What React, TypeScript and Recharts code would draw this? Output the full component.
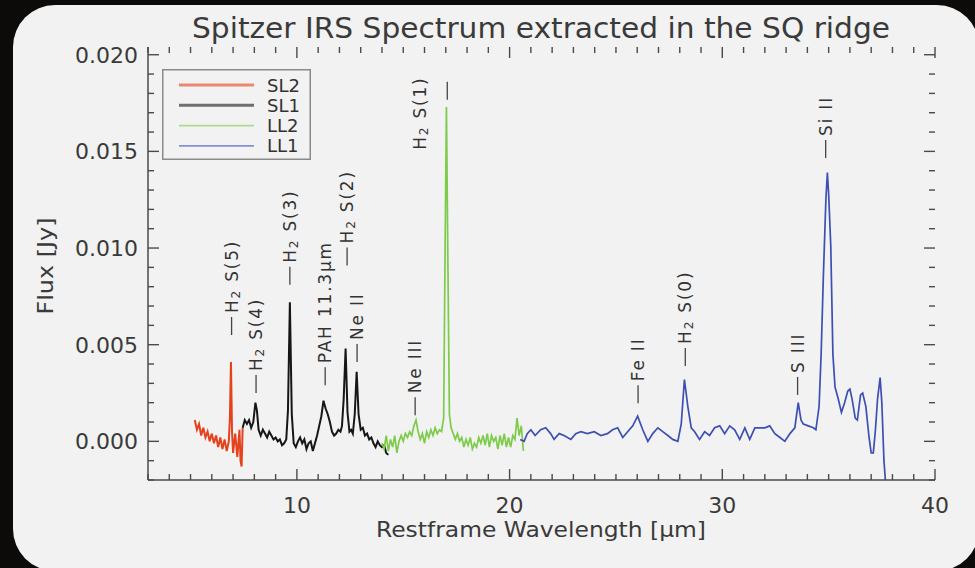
import React from 'react';
import { LineChart, Line, XAxis, YAxis, ReferenceDot, Legend } from 'recharts';

// Spitzer IRS modules: wavelength [um] and flux [Jy] samples
const sl2Wave = [5.2, 5.3, 5.4, 5.5, 5.6, 5.7, 5.8, 5.9, 6.0, 6.1, 6.2, 6.3, 6.4, 6.5, 6.6, 6.7, 6.8, 6.85, 6.9, 6.95, 7.0, 7.1, 7.2, 7.3, 7.35, 7.4, 7.45];
const sl2Flux = [0.0011, 0.0006, 0.0009, 0.0003, 0.0007, 0.0002, 0.0005, 0.0, 0.0004, -0.0001, 0.0003, -0.0003, 0.0002, -0.0004, 0.0001, -0.0005, 0.0, 0.0012, 0.0041, 0.0005, -0.0006, 0.0004, -0.0008, 0.0006, -0.001, -0.0013, 0.0007];

const sl1Wave = [7.45, 7.55, 7.65, 7.75, 7.85, 7.95, 8.05, 8.12, 8.2, 8.3, 8.4, 8.5, 8.6, 8.7, 8.8, 8.9, 9.0, 9.1, 9.2, 9.3, 9.4, 9.5, 9.58, 9.67, 9.76, 9.85, 9.95, 10.05, 10.15, 10.25, 10.35, 10.45, 10.55, 10.65, 10.75, 10.85, 10.95, 11.05, 11.15, 11.25, 11.35, 11.45, 11.55, 11.65, 11.75, 11.85, 11.95, 12.05, 12.12, 12.2, 12.29, 12.38, 12.47, 12.55, 12.63, 12.72, 12.81, 12.9, 13.0, 13.1, 13.2, 13.3, 13.4, 13.5, 13.6, 13.7, 13.8, 13.9, 14.0, 14.1, 14.2, 14.3];
const sl1Flux = [0.0007, 0.0011, 0.0009, 0.0011, 0.0007, 0.001, 0.002, 0.0016, 0.0006, 0.0003, 0.0006, 0.0004, 0.0002, 0.0005, 0.0003, 0.0001, 0.0002, 0.0, 0.0001, -0.0002, -0.0001, 0.0001, 0.0016, 0.0072, 0.0014, -0.0001, -0.0003, 0.0, 0.0002, -0.0001, 0.0001, -0.0004, -0.0001, 0.0, -0.0005, -0.0001, 0.0003, 0.0008, 0.0013, 0.0021, 0.0017, 0.0014, 0.001, 0.0005, 0.0003, 0.0004, 0.0006, 0.0005, 0.0008, 0.0022, 0.0048, 0.0015, 0.0005, 0.0006, 0.0004, 0.0014, 0.0036, 0.0014, 0.0006, 0.0007, 0.0003, 0.0004, 0.0001, 0.0002, -0.0001, -0.0003, 0.0, -0.0002, -0.0003, -0.0002, -0.0006, -0.0007];

const ll2Wave = [14.0, 14.1, 14.2, 14.3, 14.4, 14.5, 14.6, 14.7, 14.8, 14.9, 15.0, 15.1, 15.2, 15.3, 15.4, 15.5, 15.6, 15.7, 15.8, 15.9, 16.0, 16.1, 16.2, 16.3, 16.4, 16.5, 16.6, 16.7, 16.8, 16.9, 16.96, 17.03, 17.1, 17.17, 17.25, 17.35, 17.45, 17.55, 17.65, 17.75, 17.85, 17.95, 18.05, 18.15, 18.25, 18.35, 18.45, 18.55, 18.65, 18.75, 18.85, 18.95, 19.05, 19.15, 19.25, 19.35, 19.45, 19.55, 19.65, 19.75, 19.85, 19.95, 20.05, 20.15, 20.25, 20.35, 20.45, 20.55, 20.65];
const ll2Flux = [-0.0001, -0.0004, 0.0003, -0.0005, 0.0001, -0.0003, 0.0003, -0.0006, 0.0, 0.0003, 0.0, 0.0004, 0.0002, 0.0005, 0.0003, 0.0008, 0.0011, 0.0005, 0.0001, 0.0004, -0.0001, 0.0005, 0.0002, 0.0006, 0.0003, 0.0007, 0.0004, 0.0006, 0.0005, 0.0012, 0.009, 0.0173, 0.0092, 0.0014, 0.0007, 0.0004, 0.0001, 0.0004, 0.0, 0.0002, -0.0003, 0.0001, -0.0002, 0.0002, -0.0004, -0.0001, -0.0003, 0.0002, -0.0001, 0.0003, -0.0002, 0.0004, -0.0003, 0.0003, 0.0, 0.0002, -0.0004, 0.0003, -0.0002, 0.0004, -0.0003, 0.0002, -0.0003, 0.0003, 0.0001, 0.0012, 0.0003, 0.0008, -0.0005];

const ll1Wave = [20.5, 20.68, 20.83, 21.0, 21.2, 21.46, 21.7, 21.93, 22.09, 22.33, 22.56, 22.88, 23.11, 23.35, 23.66, 23.98, 24.29, 24.6, 24.84, 25.08, 25.32, 25.55, 25.79, 26.02, 26.26, 26.5, 26.73, 26.97, 27.2, 27.44, 27.67, 27.91, 28.07, 28.22, 28.38, 28.54, 28.7, 28.93, 29.17, 29.4, 29.64, 29.88, 30.11, 30.35, 30.58, 30.82, 31.06, 31.29, 31.53, 31.76, 32.0, 32.23, 32.47, 32.71, 32.94, 33.18, 33.41, 33.57, 33.7, 33.81, 34.04, 34.28, 34.4, 34.55, 34.65, 34.75, 34.87, 34.94, 35.0, 35.1, 35.2, 35.3, 35.45, 35.6, 35.75, 35.9, 36.0, 36.1, 36.25, 36.35, 36.5, 36.6, 36.75, 36.9, 37.0, 37.1, 37.2, 37.3, 37.42, 37.5, 37.6, 37.7];
const ll1Flux = [0.0001, 0.0, 0.0004, 0.0006, 0.0003, 0.0006, 0.0007, 0.0004, 0.0001, 0.0004, 0.0003, 0.0001, 0.0004, 0.0005, 0.0004, 0.0005, 0.0003, 0.0004, 0.0006, 0.0007, 0.0002, 0.0005, 0.0008, 0.0013, 0.0006, 0.0, 0.0004, 0.0007, 0.0005, 0.0003, 0.0001, 0.0, 0.0009, 0.0032, 0.0018, 0.0007, 0.0005, 0.0001, 0.0005, 0.0003, 0.0007, 0.0008, 0.0004, 0.0008, 0.0006, 0.0001, 0.0007, 0.0001, 0.0007, 0.0007, 0.0007, 0.0008, 0.0004, 0.0002, 0.0, 0.0004, 0.0007, 0.002, 0.0011, 0.0009, 0.0008, 0.0007, 0.0006, 0.0018, 0.0046, 0.0085, 0.0125, 0.0139, 0.0128, 0.0101, 0.0045, 0.0028, 0.0022, 0.0015, 0.002, 0.0026, 0.0027, 0.0022, 0.0012, 0.0011, 0.0024, 0.0025, 0.0018, 0.0002, -0.0006, -0.0006, 0.0006, 0.0022, 0.0033, 0.002, -0.001, -0.0025];

// axis ranges and ticks (minor every 1 um / 0.001 Jy, labelled majors)
const X_MIN = 3;
const X_MAX = 40;
const Y_MIN = -0.002;
const Y_MAX = 0.0204;
const xTicks = [3, 4, 5, 6, 7, 8, 9, 10, 11, 12, 13, 14, 15, 16, 17, 18, 19, 20, 21, 22, 23, 24, 25, 26, 27, 28, 29, 30, 31, 32, 33, 34, 35, 36, 37, 38, 39, 40];
const xMajor = [10, 20, 30, 40];
const yTicks = [-0.002, -0.001, 0, 0.001, 0.002, 0.003, 0.004, 0.005, 0.006, 0.007, 0.008, 0.009, 0.01, 0.011, 0.012, 0.013, 0.014, 0.015, 0.016, 0.017, 0.018, 0.019, 0.02];
const yMajor = [0, 0.005, 0.01, 0.015, 0.02];

// emission line identifications: wavelength, flux at the foot of the marker
const lineIds = [
  { wl: 6.93, flux: 0.0055, main: 'H', sub: '2', tail: ' S(5)' },
  { wl: 8.08, flux: 0.0025, main: 'H', sub: '2', tail: ' S(4)' },
  { wl: 9.67, flux: 0.0081, main: 'H', sub: '2', tail: ' S(3)' },
  { wl: 11.33, flux: 0.0029, main: 'PAH 11.3\u03bcm' },
  { wl: 12.36, flux: 0.0091, main: 'H', sub: '2', tail: ' S(2)' },
  { wl: 12.83, flux: 0.0041, main: 'Ne II' },
  { wl: 15.56, flux: 0.00135, main: 'Ne III' },
  { wl: 17.07, flux: 0.01767, main: 'H', sub: '2', tail: ' S(1)', dx: -27, lift: -50 },
  { wl: 26.04, flux: 0.00197, main: 'Fe II' },
  { wl: 28.26, flux: 0.0039, main: 'H', sub: '2', tail: ' S(0)' },
  { wl: 33.54, flux: 0.0024, main: 'S III' },
  { wl: 34.86, flux: 0.01466, main: 'Si II' },
];

const zip = (w: number[], f: number[]) => w.map((x, i) => ({ x, y: f[i] }));

const modules = [
  { name: 'SL2', color: '#e4421c', width: 2, data: zip(sl2Wave, sl2Flux) },
  { name: 'SL1', color: '#161616', width: 2, data: zip(sl1Wave, sl1Flux) },
  { name: 'LL2', color: '#7dcb4a', width: 1.7, data: zip(ll2Wave, ll2Flux) },
  { name: 'LL1', color: '#3d4fb2', width: 1.7, data: zip(ll1Wave, ll1Flux) },
];

const FONT = '"DejaVu Sans", sans-serif';
const INK = '#3a3a3a';
const AXIS = '#4a4a4a';

const isMajor = (v: number, majors: number[]) => majors.some((m) => Math.abs(m - v) < 1e-9);

// tick labels only; the tick marks themselves are drawn inward as frame ticks
const BottomLabel = (props: any) => {
  const { x, y, payload } = props;
  if (!isMajor(payload.value, xMajor)) return <g />;
  return (
    <text x={x} y={y + 33} textAnchor="middle" fontSize={22} fill={INK} stroke="none" fontFamily={FONT}>
      {payload.value}
    </text>
  );
};

const LeftLabel = (props: any) => {
  const { x, y, payload } = props;
  if (!isMajor(payload.value, yMajor)) return <g />;
  return (
    <text x={x - 10} y={y + 8} textAnchor="end" fontSize={22} fill={INK} stroke="none" fontFamily={FONT}>
      {payload.value.toFixed(3)}
    </text>
  );
};

// short inward tick on the plot frame (IDL style, all four sides)
const FrameTick = ({ cx, cy, dx, dy }: any) => (
  <path d={`M${cx},${cy}l${dx},${dy}`} stroke={AXIS} strokeWidth={1.4} fill="none" />
);

const frameTicks = [
  ...xTicks.flatMap((v) => {
    const len = isMajor(v, xMajor) ? 11 : 6;
    return [
      { key: `b${v}`, x: v, y: Y_MIN, dx: 0, dy: -len },
      { key: `t${v}`, x: v, y: Y_MAX, dx: 0, dy: len },
    ];
  }),
  ...yTicks.flatMap((v) => {
    const len = isMajor(v, yMajor) ? 11 : 6;
    return [
      { key: `l${v}`, x: X_MIN, y: v, dx: len, dy: 0 },
      { key: `r${v}`, x: X_MAX, y: v, dx: -len, dy: 0 },
    ];
  }),
];

// vertical line identification: short marker plus rotated label
const LineId = ({ cx, cy, note }: any) => {
  const tx = cx + (note.dx ?? 0);
  const start = cy - (note.lift ?? 22);
  return (
    <g>
      <line x1={cx} x2={cx} y1={cy} y2={cy - 18} stroke="#444" strokeWidth={1.3} />
      <text
        transform={`translate(${tx},${start}) rotate(-90)`}
        dominantBaseline="central"
        fontSize={17}
        letterSpacing={1.8}
        fill="#333"
        fontFamily={FONT}
      >
        {note.main}
        {note.sub && (
          <tspan dy={4} fontSize={12}>
            {note.sub}
          </tspan>
        )}
        {note.tail && <tspan dy={note.sub ? -4 : 0}>{note.tail}</tspan>}
      </text>
    </g>
  );
};

const order = (name: string) => modules.findIndex((m) => m.name === name);

const LegendBox = ({ payload }: any) => {
  const items = [...(payload || [])].sort((a: any, b: any) => order(a.value) - order(b.value));
  return (
    <svg width={149} height={91}>
      <rect x={0.75} y={0.75} width={147.5} height={89.5} fill="none" stroke="#8a8a8a" strokeWidth={1.5} />
      {items.map((p: any, i: number) => {
        const mod = modules[order(p.value)];
        const ly = 16 + i * 20.3;
        return (
          <g key={p.value}>
            <line
              x1={17}
              x2={92}
              y1={ly}
              y2={ly}
              stroke={p.color}
              strokeOpacity={0.6}
              strokeWidth={mod && mod.width > 1.8 ? 3 : 1.8}
            />
            <text x={105} y={ly + 6.5} fontSize={18} fill="#333" fontFamily={FONT}>
              {p.value}
            </text>
          </g>
        );
      })}
    </svg>
  );
};

const axisLine = { stroke: AXIS, strokeWidth: 1.5 };

const SpectrumChart: React.FC = () => (
  <LineChart width={975} height={568} margin={{ top: 47, right: 40, bottom: 58, left: 88 }}>
    <XAxis
      dataKey="x"
      type="number"
      domain={[X_MIN, X_MAX]}
      allowDataOverflow
      ticks={xTicks}
      interval={0}
      height={30}
      tickSize={0}
      tickMargin={0}
      tickLine={false}
      axisLine={axisLine}
      tick={BottomLabel}
    />
    <XAxis
      xAxisId="top"
      orientation="top"
      dataKey="x"
      type="number"
      domain={[X_MIN, X_MAX]}
      allowDataOverflow
      height={0}
      tick={false}
      tickLine={false}
      axisLine={axisLine}
    />
    <YAxis
      type="number"
      domain={[Y_MIN, Y_MAX]}
      allowDataOverflow
      ticks={yTicks}
      interval={0}
      width={60}
      tickSize={0}
      tickMargin={0}
      tickLine={false}
      axisLine={axisLine}
      tick={LeftLabel}
    />
    <YAxis
      yAxisId="right"
      orientation="right"
      type="number"
      domain={[Y_MIN, Y_MAX]}
      allowDataOverflow
      width={0}
      tick={false}
      tickLine={false}
      axisLine={axisLine}
    />
    {frameTicks.map((t) => (
      <ReferenceDot
        key={t.key}
        x={t.x}
        y={t.y}
        r={0}
        ifOverflow="visible"
        shape={(p: any) => <FrameTick cx={p.cx} cy={p.cy} dx={t.dx} dy={t.dy} />}
      />
    ))}
    {modules.map((m) => (
      <Line
        key={m.name}
        name={m.name}
        data={m.data}
        dataKey="y"
        type="linear"
        stroke={m.color}
        strokeWidth={m.width}
        dot={false}
        activeDot={false}
        isAnimationActive={false}
      />
    ))}
    {lineIds.map((n) => (
      <ReferenceDot
        key={n.main + (n.tail || '')}
        x={n.wl}
        y={n.flux}
        r={0}
        ifOverflow="visible"
        shape={(p: any) => <LineId cx={p.cx} cy={p.cy} note={n} />}
      />
    ))}
    <Legend
      layout="vertical"
      align="center"
      verticalAlign="middle"
      width={149}
      height={91}
      wrapperStyle={{ left: 162, top: 69, width: 149, height: 91 }}
      content={(p: any) => <LegendBox payload={p.payload} />}
    />
  </LineChart>
);

export default function App() {
  return (
    <div style={{ position: 'fixed', left: 0, top: 0, width: 975, height: 568, background: '#0d0b09', overflow: 'hidden' }}>
      <div
        style={{
          position: 'absolute',
          left: 13,
          top: 5,
          width: 966,
          height: 566,
          background: '#f2f2f2',
          borderRadius: 42,
        }}
      />
      <div style={{ position: 'absolute', left: 0, top: 0 }}>
        <SpectrumChart />
      </div>
      <svg width={975} height={568} style={{ position: 'absolute', left: 0, top: 0, pointerEvents: 'none' }}>
        <text x={541} y={38} textAnchor="middle" fontSize={28} textLength={698} lengthAdjust="spacingAndGlyphs" fill={INK} fontFamily={FONT}>
          Spitzer IRS Spectrum extracted in the SQ ridge
        </text>
        <text x={541} y={537} textAnchor="middle" fontSize={21} textLength={330} lengthAdjust="spacingAndGlyphs" fill={INK} fontFamily={FONT}>
          Restframe Wavelength [{'\u03bc'}m]
        </text>
        <text
          transform="translate(53,266) rotate(-90)"
          textAnchor="middle"
          fontSize={22}
          textLength={97}
          lengthAdjust="spacingAndGlyphs"
          fill={INK}
          fontFamily={FONT}
        >
          Flux [Jy]
        </text>
      </svg>
    </div>
  );
}
